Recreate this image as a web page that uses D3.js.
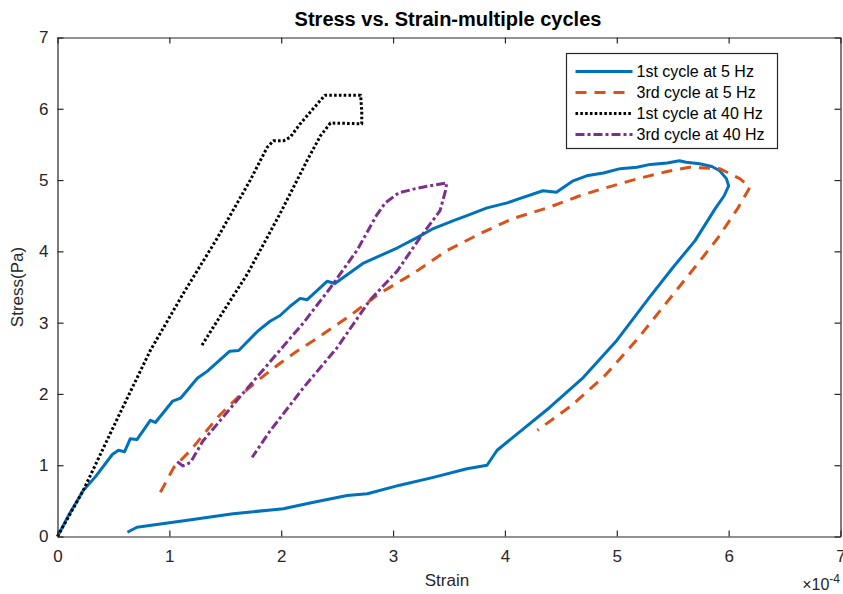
<!DOCTYPE html>
<html>
<head>
<meta charset="utf-8">
<script src="https://cdn.jsdelivr.net/npm/d3@7"></script>
<style>
  body { margin: 0; background: #fff; }
  svg { display: block; font-family: "Liberation Sans", Arial, sans-serif; }
</style>
</head>
<body>
<svg id="chart" width="843" height="594"></svg>
<script>
// strain values are in units of 1e-4, stress in Pa
var seriesNames = ["1st cycle at 5 Hz", "3rd cycle at 5 Hz", "1st cycle at 40 Hz", "3rd cycle at 40 Hz"];

var strain5Hz1 = [0, 0.1, 0.23, 0.34, 0.49, 0.545, 0.6, 0.65, 0.71, 0.83, 0.875, 1.03, 1.1, 1.25, 1.34, 1.54, 1.62, 1.79, 1.9, 1.99, 2.08, 2.17, 2.23, 2.41, 2.48, 2.73, 3.04, 3.21, 3.36, 3.54, 3.66, 3.84, 4.02, 4.13, 4.34, 4.46, 4.61, 4.73, 4.88, 5.03, 5.18, 5.3, 5.45, 5.56, 5.62, 5.74, 5.85, 5.92, 5.98, 6.0,
  5.96, 5.88, 5.7, 5.5, 5.29, 5.0, 4.7, 4.4, 4.11, 3.93, 3.84,
  3.66, 3.36, 3.06, 2.77, 2.59, 2.29, 2.08, 2.02, 1.57, 1.13, 0.71, 0.625];
var stress5Hz1 = [0, 0.3, 0.645, 0.84, 1.15, 1.21, 1.19, 1.37, 1.36, 1.63, 1.6, 1.9, 1.94, 2.22, 2.32, 2.6, 2.61, 2.88, 3.02, 3.1, 3.23, 3.34, 3.32, 3.58, 3.55, 3.83, 4.05, 4.19, 4.32, 4.43, 4.5, 4.61, 4.68, 4.74, 4.85, 4.83, 4.99, 5.06, 5.1, 5.16, 5.18, 5.22, 5.24, 5.27, 5.25, 5.23, 5.19, 5.13, 5.02, 4.92,
  4.78, 4.6, 4.15, 3.77, 3.35, 2.75, 2.23, 1.81, 1.44, 1.21, 1.0,
  0.95, 0.83, 0.72, 0.6, 0.575, 0.48, 0.41, 0.39, 0.32, 0.22, 0.13, 0.06];

var strain5Hz3 = [0.92, 1.04, 1.19, 1.43, 1.61, 1.84, 1.99, 2.14, 2.29, 2.59, 2.88, 3.18, 3.48, 3.78, 4.07, 4.38, 4.67, 4.875, 5.19, 5.45, 5.65, 5.92, 6.1, 6.19,
  6.08, 5.9, 5.7, 5.48, 5.19, 4.89, 4.59, 4.29];
var stress5Hz3 = [0.62, 0.97, 1.21, 1.67, 1.95, 2.25, 2.43, 2.6, 2.75, 3.07, 3.41, 3.69, 4.01, 4.25, 4.46, 4.61, 4.78, 4.88, 5.02, 5.12, 5.18, 5.16, 5.02, 4.9,
  4.6, 4.18, 3.78, 3.35, 2.78, 2.25, 1.83, 1.49];

var strain40Hz1 = [0, 0.23, 0.54, 0.83, 1.125, 1.43, 1.72, 1.875, 1.93, 2.02, 2.08, 2.17, 2.39, 2.71, 2.72, 2.72, 2.44, 2.35, 2.23, 1.99, 1.7, 1.39, 1.29];
var stress40Hz1 = [0, 0.645, 1.67, 2.61, 3.41, 4.19, 4.99, 5.46, 5.55, 5.55, 5.6, 5.79, 6.19, 6.19, 5.97, 5.79, 5.8, 5.62, 5.27, 4.53, 3.69, 2.93, 2.68];

var strain40Hz3 = [1.07, 1.12, 1.19, 1.3, 1.43, 1.61, 1.9, 2.2, 2.44, 2.68, 2.85, 2.93, 3.05, 3.2, 3.33, 3.48,
  3.47, 3.42, 3.24, 3.04, 2.79, 2.5, 2.2, 1.9, 1.74];
var stress40Hz3 = [1.05, 0.99, 1.04, 1.34, 1.58, 1.92, 2.45, 3.0, 3.49, 4.02, 4.5, 4.68, 4.82, 4.88, 4.92, 4.96,
  4.86, 4.57, 4.19, 3.73, 3.31, 2.65, 2.09, 1.48, 1.11];

var xTicks = [0, 1, 2, 3, 4, 5, 6, 7];
var yTicks = [0, 1, 2, 3, 4, 5, 6, 7];

(function() {
  var series = [
    { name: seriesNames[0], x: strain5Hz1, y: stress5Hz1, color: "#0072BD", dash: null },
    { name: seriesNames[1], x: strain5Hz3, y: stress5Hz3, color: "#D95319", dash: "11,8" },
    { name: seriesNames[2], x: strain40Hz1, y: stress40Hz1, color: "#000000", dash: "2.6,2.2" },
    { name: seriesNames[3], x: strain40Hz3, y: stress40Hz3, color: "#7E2F8E", dash: "9,3,3,3" }
  ];

  var svg = d3.select("#chart");
  var axisColor = "#262626";

  var mLeft = 57.5, mRight = 840.5, mTop = 37.5, mBottom = 536.5;

  var x = d3.scaleLinear().domain([0, 7]).range([mLeft, mRight]);
  var y = d3.scaleLinear().domain([0, 7]).range([mBottom, mTop]);

  // data lines
  var line = d3.line()
      .x(function(d) { return x(d[0]); })
      .y(function(d) { return y(d[1]); });

  var plot = svg.append("g").attr("class", "lines");

  series.forEach(function(s) {
    var pts = s.x.map(function(v, i) { return [v, s.y[i]]; });
    plot.append("path")
        .datum(pts)
        .attr("d", line)
        .attr("fill", "none")
        .attr("stroke", s.color)
        .attr("stroke-width", 3)
        .attr("stroke-linejoin", "round")
        .attr("stroke-dasharray", s.dash);
  });

  // axes with inward ticks on all four sides
  var tickLen = 6;
  var fmt = d3.format("d");
  var xAxis = svg.append("g")
      .attr("transform", "translate(0," + mBottom + ")")
      .call(d3.axisBottom(x).tickValues(xTicks).tickFormat(fmt).tickSizeInner(-tickLen).tickSizeOuter(0).tickPadding(13));
  var xAxisTop = svg.append("g")
      .attr("transform", "translate(0," + mTop + ")")
      .call(d3.axisTop(x).tickValues(xTicks).tickSizeInner(-tickLen).tickSizeOuter(0).tickFormat(""));
  var yAxis = svg.append("g")
      .attr("transform", "translate(" + mLeft + ",0)")
      .call(d3.axisLeft(y).tickValues(yTicks).tickFormat(fmt).tickSizeInner(-tickLen).tickSizeOuter(0).tickPadding(9));
  var yAxisRight = svg.append("g")
      .attr("transform", "translate(" + mRight + ",0)")
      .call(d3.axisRight(y).tickValues(yTicks).tickSizeInner(-tickLen).tickSizeOuter(0).tickFormat(""));

  [xAxis, xAxisTop, yAxis, yAxisRight].forEach(function(a) {
    a.select(".domain").attr("stroke", axisColor).attr("stroke-width", 1.2);
    a.selectAll(".tick line").attr("stroke", axisColor).attr("stroke-width", 1.2);
    a.selectAll(".tick text")
        .attr("fill", axisColor)
        .style("font-size", "17px")
        .style("font-family", "Liberation Sans, Arial, sans-serif");
  });

  // titles and labels
  svg.append("text")
      .attr("x", 448)
      .attr("y", 26)
      .attr("text-anchor", "middle")
      .style("font-size", "20px")
      .style("font-weight", "bold")
      .attr("fill", "#000")
      .text("Stress vs. Strain-multiple cycles");

  svg.append("text")
      .attr("x", 447)
      .attr("y", 586)
      .attr("text-anchor", "middle")
      .style("font-size", "17px")
      .attr("fill", axisColor)
      .text("Strain");

  svg.append("text")
      .attr("transform", "translate(23," + ((mTop + mBottom) / 2) + ") rotate(-90)")
      .attr("text-anchor", "middle")
      .style("font-size", "17px")
      .attr("fill", axisColor)
      .text("Stress(Pa)");

  var expo = svg.append("text")
      .attr("x", 840)
      .attr("y", 590)
      .attr("text-anchor", "end")
      .style("font-size", "16px")
      .attr("fill", axisColor);
  expo.append("tspan").text("\u00d710");
  expo.append("tspan").attr("dy", -7).style("font-size", "12px").text("-4");

  // legend
  var legX = 566.5, legY = 53.5, legW = 211, rowH = 21;
  var legend = svg.append("g").attr("class", "legend");
  legend.append("rect")
      .attr("x", legX)
      .attr("y", legY)
      .attr("width", legW)
      .attr("height", series.length * rowH + 11)
      .attr("fill", "#fff")
      .attr("stroke", axisColor)
      .attr("stroke-width", 1.2);

  var rows = legend.selectAll(".row")
      .data(series)
      .enter().append("g")
      .attr("class", "row")
      .attr("transform", function(d, i) { return "translate(0," + (legY + 18 + i * rowH) + ")"; });

  rows.append("line")
      .attr("x1", legX + 9)
      .attr("x2", legX + 66)
      .attr("stroke", function(d) { return d.color; })
      .attr("stroke-width", 3)
      .attr("stroke-dasharray", function(d) { return d.dash; });

  rows.append("text")
      .attr("x", legX + 70)
      .attr("y", 5.5)
      .style("font-size", "16px")
      .attr("fill", "#000")
      .text(function(d) { return d.name; });
})();
</script>
</body>
</html>
